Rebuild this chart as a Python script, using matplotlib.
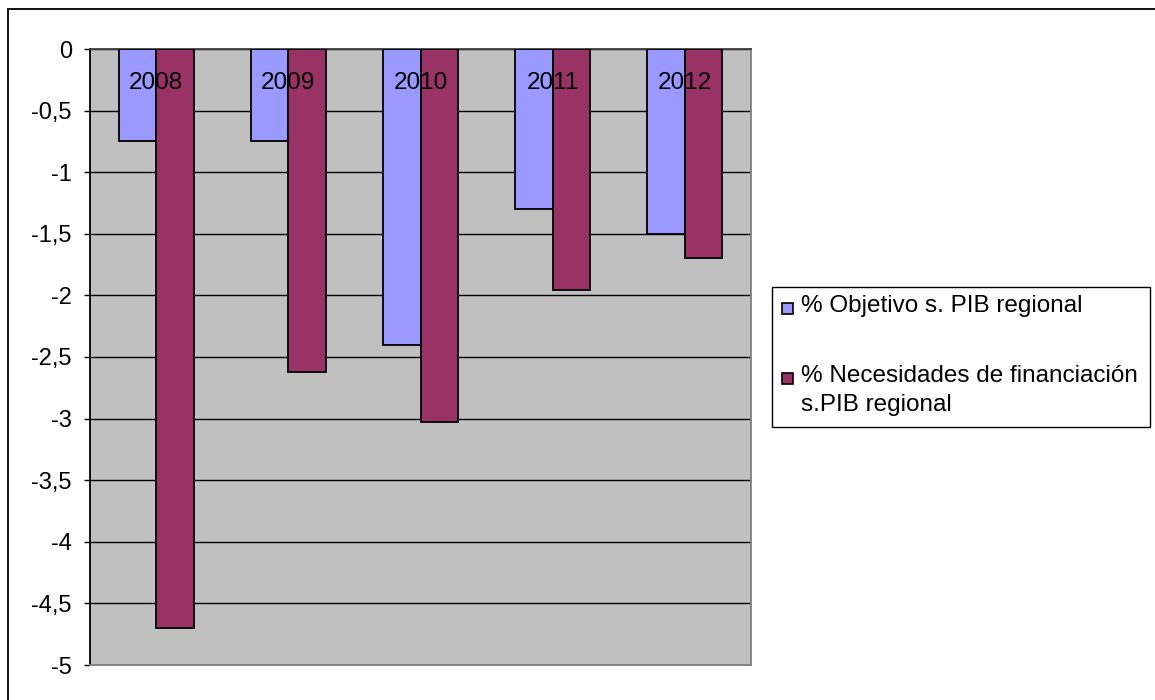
import matplotlib
matplotlib.use("Agg")
import matplotlib.pyplot as plt
from matplotlib.patches import Rectangle
from matplotlib.ticker import FuncFormatter

plt.rcParams['font.family'] = ['Liberation Sans', 'DejaVu Sans']

years = ['2008', '2009', '2010', '2011', '2012']
objetivo = [-0.75, -0.75, -2.4, -1.3, -1.5]
necesidades = [-4.7, -2.62, -3.03, -1.96, -1.7]
labels = ['% Objetivo s. PIB regional', '% Necesidades de financiación\ns.PIB regional']
colors = ['#9999FF', '#993366']

W, H = 1155, 700
fig = plt.figure(figsize=(11.55, 7), dpi=100)
ax = fig.add_axes([90 / W, 1 - 665 / H, 661 / W, (665 - 49) / H])
ax.set_facecolor('#C0C0C0')

x = list(range(len(years)))
bw = 0.284
ax.bar([i - bw / 2 for i in x], objetivo, bw, color=colors[0], edgecolor='black', lw=1.3, zorder=3)
ax.bar([i + bw / 2 for i in x], necesidades, bw, color=colors[1], edgecolor='black', lw=1.3, zorder=3)

for i, y in enumerate(years):
    ax.text(i, -0.28, y, ha='center', va='center', fontsize=17.5, zorder=4)

ax.set_xlim(-0.5, 4.5)
ax.set_ylim(-5, 0)
ax.set_yticks([-5 + 0.5 * k for k in range(11)])
ax.yaxis.set_major_formatter(FuncFormatter(lambda v, p: f"{v:g}".replace('.', ',')))
ax.set_xticks([])
ax.tick_params(axis='y', labelsize=17, length=4.5, pad=8.5, width=1)
ax.grid(axis='y', color='black', lw=1, zorder=1)

ax.spines['left'].set_color('black')
ax.spines['top'].set_color('#404040')
ax.spines['right'].set_color('#808080')
ax.spines['bottom'].set_color('#808080')
for s in ax.spines.values():
    s.set_linewidth(1.3)

# outer chart border
fig.add_artist(Rectangle((8 / W, -0.1), 2, 1.1 - 9 / H, transform=fig.transFigure,
                         fill=False, ec='black', lw=1.3))

# legend
fig.add_artist(Rectangle((772 / W, 1 - 427 / H), (1150 - 772) / W, 140 / H,
                         transform=fig.transFigure, fill=False, ec='black', lw=1))
ys = [308, 378]
for lab, c, yy in zip(labels, colors, ys):
    fig.add_artist(Rectangle((782 / W, 1 - (yy + 6) / H), 11 / W, 11 / H,
                             transform=fig.transFigure, fc=c, ec='black', lw=1.2))
    fig.text(801 / W, 1 - (yy - 13) / H, lab, fontsize=17.5, va='top', ha='left',
             linespacing=1.42)

fig.savefig('out.png', dpi=100)
